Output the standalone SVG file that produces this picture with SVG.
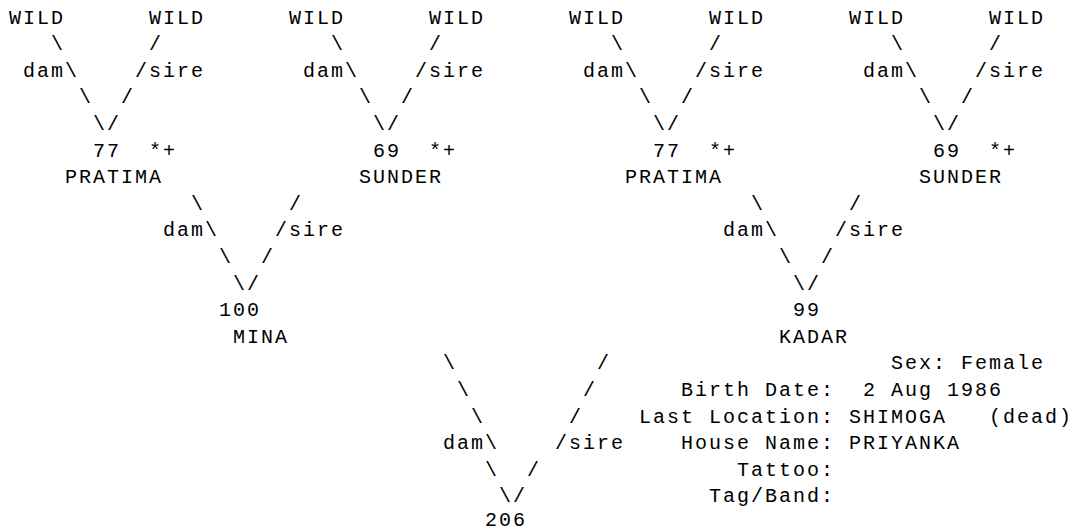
<svg xmlns="http://www.w3.org/2000/svg" width="1077" height="532" viewBox="0 0 1077 532">
<style>
text{font-family:"Liberation Mono","Courier New",monospace;font-size:20px;letter-spacing:2px;fill:#000;white-space:pre}
</style>
<rect width="1077" height="532" fill="#fff"/>
<g id="connectors">
<text x="51" y="50.1">\</text><text x="149" y="50.1">/</text>
<text x="23" y="76.7">dam\</text><text x="135" y="76.7">/sire</text>
<text x="79" y="103.3">\</text><text x="121" y="103.3">/</text>
<text x="93" y="129.9">\/</text>
<text x="331" y="50.1">\</text><text x="429" y="50.1">/</text>
<text x="303" y="76.7">dam\</text><text x="415" y="76.7">/sire</text>
<text x="359" y="103.3">\</text><text x="401" y="103.3">/</text>
<text x="373" y="129.9">\/</text>
<text x="611" y="50.1">\</text><text x="709" y="50.1">/</text>
<text x="583" y="76.7">dam\</text><text x="695" y="76.7">/sire</text>
<text x="639" y="103.3">\</text><text x="681" y="103.3">/</text>
<text x="653" y="129.9">\/</text>
<text x="891" y="50.1">\</text><text x="989" y="50.1">/</text>
<text x="863" y="76.7">dam\</text><text x="975" y="76.7">/sire</text>
<text x="919" y="103.3">\</text><text x="961" y="103.3">/</text>
<text x="933" y="129.9">\/</text>
<text x="191" y="209.7">\</text><text x="289" y="209.7">/</text>
<text x="163" y="236.3">dam\</text><text x="275" y="236.3">/sire</text>
<text x="219" y="262.9">\</text><text x="261" y="262.9">/</text>
<text x="233" y="289.5">\/</text>
<text x="751" y="209.7">\</text><text x="849" y="209.7">/</text>
<text x="723" y="236.3">dam\</text><text x="835" y="236.3">/sire</text>
<text x="779" y="262.9">\</text><text x="821" y="262.9">/</text>
<text x="793" y="289.5">\/</text>
<text x="443" y="369.3">\</text><text x="597" y="369.3">/</text>
<text x="457" y="395.9">\</text><text x="583" y="395.9">/</text>
<text x="471" y="422.5">\</text><text x="569" y="422.5">/</text>
<text x="443" y="449.1">dam\</text><text x="555" y="449.1">/sire</text>
<text x="485" y="475.7">\</text><text x="527" y="475.7">/</text>
<text x="499" y="502.3">\/</text>
</g>
<g id="wild1"><text x="9" y="23.5">WILD</text></g>
<g id="wild2"><text x="149" y="23.5">WILD</text></g>
<g id="wild3"><text x="289" y="23.5">WILD</text></g>
<g id="wild4"><text x="429" y="23.5">WILD</text></g>
<g id="wild5"><text x="569" y="23.5">WILD</text></g>
<g id="wild6"><text x="709" y="23.5">WILD</text></g>
<g id="wild7"><text x="849" y="23.5">WILD</text></g>
<g id="wild8"><text x="989" y="23.5">WILD</text></g>
<g id="pratima1"><text x="93" y="156.5">77</text><text x="149" y="156.5">*+</text><text x="65" y="183.1">PRATIMA</text></g>
<g id="sunder1"><text x="373" y="156.5">69</text><text x="429" y="156.5">*+</text><text x="359" y="183.1">SUNDER</text></g>
<g id="pratima2"><text x="653" y="156.5">77</text><text x="709" y="156.5">*+</text><text x="625" y="183.1">PRATIMA</text></g>
<g id="sunder2"><text x="933" y="156.5">69</text><text x="989" y="156.5">*+</text><text x="919" y="183.1">SUNDER</text></g>
<g id="mina"><text x="219" y="316.1">100</text><text x="233" y="342.7">MINA</text></g>
<g id="kadar"><text x="793" y="316.1">99</text><text x="779" y="342.7">KADAR</text></g>
<g id="priyanka">
<text x="485" y="525.5">206</text>
<text x="891" y="369.3">Sex: Female</text>
<text x="681" y="395.9">Birth Date:</text><text x="863" y="395.9">2 Aug 1986</text>
<text x="639" y="422.5">Last Location:</text><text x="849" y="422.5">SHIMOGA</text><text x="989" y="422.5">(dead)</text>
<text x="681" y="449.1">House Name:</text><text x="849" y="449.1">PRIYANKA</text>
<text x="737" y="475.7">Tattoo:</text>
<text x="709" y="502.3">Tag/Band:</text>
</g>
</svg>
